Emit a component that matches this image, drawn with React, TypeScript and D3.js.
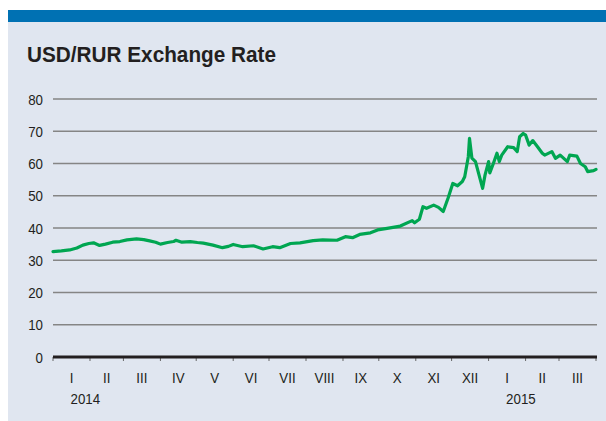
import React from 'react'
import * as d3 from 'd3'

const title = 'USD/RUR Exchange Rate'

const dates = [
  '2014-01-01', '2014-01-08', '2014-01-15', '2014-01-21', '2014-01-26', '2014-01-31',
  '2014-02-04', '2014-02-09', '2014-02-14', '2014-02-20', '2014-02-26',
  '2014-03-04', '2014-03-12', '2014-03-18', '2014-03-23', '2014-03-28',
  '2014-04-01', '2014-04-07', '2014-04-12', '2014-04-14', '2014-04-19', '2014-04-26',
  '2014-05-02', '2014-05-07', '2014-05-15', '2014-05-23', '2014-05-28',
  '2014-06-01', '2014-06-09', '2014-06-18', '2014-06-26',
  '2014-07-04', '2014-07-10', '2014-07-19', '2014-07-27',
  '2014-08-07', '2014-08-15', '2014-08-27',
  '2014-09-03', '2014-09-09', '2014-09-15', '2014-09-24', '2014-09-30',
  '2014-10-08', '2014-10-19', '2014-10-29', '2014-10-31',
  '2014-11-04', '2014-11-07', '2014-11-10', '2014-11-16', '2014-11-20', '2014-11-24', '2014-11-28',
  '2014-12-02', '2014-12-06', '2014-12-10', '2014-12-12', '2014-12-15', '2014-12-16',
  '2014-12-18', '2014-12-21', '2014-12-27', '2014-12-29',
  '2015-01-01', '2015-01-02', '2015-01-05', '2015-01-08', '2015-01-10', '2015-01-12',
  '2015-01-17', '2015-01-22', '2015-01-25', '2015-01-27', '2015-01-30',
  '2015-02-01', '2015-02-02', '2015-02-04', '2015-02-07', '2015-02-11', '2015-02-15',
  '2015-02-17', '2015-02-23', '2015-02-26',
  '2015-03-02', '2015-03-08', '2015-03-10', '2015-03-16', '2015-03-19', '2015-03-23',
  '2015-03-25', '2015-03-30', '2015-04-01',
]

const rates = [
  32.7, 32.9, 33.2, 33.8, 34.7, 35.2,
  35.4, 34.6, 35.0, 35.6, 35.8,
  36.3, 36.6, 36.4, 36.0, 35.6,
  35.0, 35.5, 35.8, 36.2, 35.6, 35.8,
  35.5, 35.3, 34.7, 33.9, 34.3,
  34.9, 34.2, 34.5, 33.5,
  34.2, 33.9, 35.2, 35.4,
  36.1, 36.3, 36.2,
  37.3, 37.0, 38.0, 38.5, 39.4,
  39.9, 40.6, 42.3, 41.6,
  42.7, 46.6, 46.1, 47.1, 46.4, 45.1, 49.2,
  53.8, 53.1, 54.4, 55.9, 62.1, 67.8,
  61.7, 60.6, 52.3, 56.4,
  60.6, 57.1, 60.0, 63.2, 60.6, 62.6,
  65.2, 64.9, 63.7, 68.3, 69.3,
  68.8, 67.8, 65.7, 67.1, 65.2, 63.2,
  62.6, 63.7, 61.6,
  62.6, 60.6, 62.6, 62.3, 60.0, 59.0,
  57.5, 57.8, 58.2,
]

const yTicks = [0, 10, 20, 30, 40, 50, 60, 70, 80]
const monthLabels = ['I', 'II', 'III', 'IV', 'V', 'VI', 'VII', 'VIII', 'IX', 'X', 'XI', 'XII', 'I', 'II', 'III']
const yearLabels = [
  { year: '2014', month: 0 },
  { year: '2015', month: 12 },
]

const W = 606
const H = 421
const font = '"Liberation Sans", Arial, sans-serif'
const ink = '#231f20'

// no condensed face installed, so squeeze the glyphs horizontally
const Narrow = ({ x, y, anchor = 'start', children }: any) => (
  <text
    transform={`translate(${x},${y}) scale(0.86,1)`}
    textAnchor={anchor}
    fontFamily={font}
    fontSize={15.5}
    fill={ink}
  >
    {children}
  </text>
)

export default function App() {
  const parse = d3.timeParse('%Y-%m-%d')
  const data = dates.map((d, i) => ({ date: parse(d) as Date, value: rates[i] }))

  const x = d3.scaleTime()
    .domain([new Date(2014, 0, 1), new Date(2015, 3, 1)])
    .range([53, 596])
  const y = d3.scaleLinear().domain([0, 80]).range([357, 99])

  const line = d3.line<{ date: Date; value: number }>()
    .x(d => x(d.date))
    .y(d => y(d.value))

  const months = d3.timeMonth.range(new Date(2014, 0, 1), new Date(2015, 3, 2))

  return (
    <div style={{ position: 'fixed', left: 0, top: 0 }}>
      <svg width={W} height={H} style={{ display: 'block' }}>
        <rect x={8} y={10} width={W - 8} height={H - 10} fill="#e0e6f0" />
        <rect x={8} y={10} width={W - 8} height={12} fill="#0071b3" />
        <text
          x={27}
          y={62}
          fontFamily={font}
          fontWeight="bold"
          fontSize={21.5}
          fill={ink}
          textLength={249}
          lengthAdjust="spacingAndGlyphs"
        >
          {title}
        </text>

        {yTicks.map(t => (
          <g key={t}>
            {t > 0 && (
              <line x1={53} x2={597} y1={y(t)} y2={y(t)} stroke="#858585" strokeWidth={1.6} />
            )}
            <Narrow x={43} y={y(t) + 5.5} anchor="end">{t}</Narrow>
          </g>
        ))}

        {months.map((m, i) => (
          <line key={i} x1={x(m)} x2={x(m)} y1={357} y2={361} stroke="#666" strokeWidth={1} />
        ))}
        <line x1={53} x2={597} y1={357} y2={357} stroke={ink} strokeWidth={3.2} />

        {monthLabels.map((lab, i) => {
          const cx = (x(months[i]) + x(months[i + 1])) / 2
          return <Narrow key={i} x={cx} y={383} anchor="middle">{lab}</Narrow>
        })}
        {yearLabels.map(yl => {
          const cx = (x(months[yl.month]) + x(months[yl.month + 1])) / 2
          return <Narrow key={yl.year} x={cx - 1} y={404}>{yl.year}</Narrow>
        })}

        <path
          d={line(data) || ''}
          fill="none"
          stroke="#00a651"
          strokeWidth={3.2}
          strokeLinejoin="round"
          strokeLinecap="round"
        />
      </svg>
    </div>
  )
}
